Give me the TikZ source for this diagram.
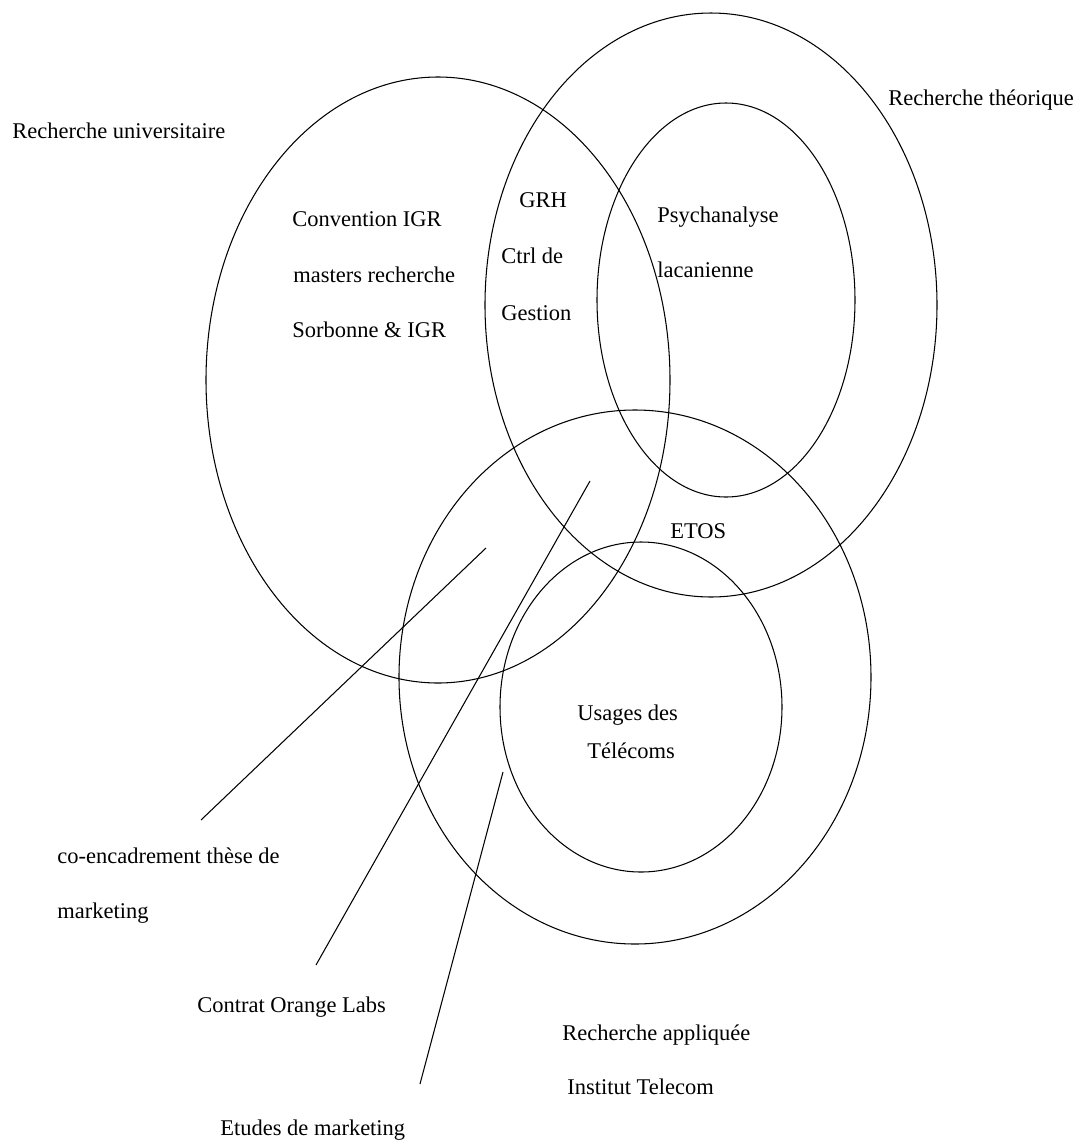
\documentclass[tikz,border=0pt]{standalone}
\usepackage{fontspec}
\setmainfont{Liberation Serif}
\begin{document}
\begin{tikzpicture}[x=0.02cm,y=-0.02cm,
  ring/.style={draw=black, line width=0.6pt},
  link/.style={draw=black, line width=0.6pt},
  lbl/.style={anchor=base west, inner sep=0pt, font=\fontsize{12.8}{15}\selectfont}]
\useasboundingbox[fill=white] (0,0) rectangle (1081,1144);
% ellipses
\draw[ring] (438,380) ellipse [x radius=232, y radius=303];
\draw[ring] (711,305) ellipse [x radius=226, y radius=292];
\draw[ring] (726,300) ellipse [x radius=129, y radius=197];
\draw[ring] (635,677) ellipse [x radius=236, y radius=267];
\draw[ring] (641,707) ellipse [x radius=141, y radius=165];
% connector end points
\coordinate (c1a) at (486,548);
\coordinate (c1b) at (201,820);
\coordinate (c2a) at (590,481);
\coordinate (c2b) at (316,965);
\coordinate (c3a) at (503,772);
\coordinate (c3b) at (420,1084);
\draw[link] (c1a) -- (c1b);
\draw[link] (c2a) -- (c2b);
\draw[link] (c3a) -- (c3b);
% labels
\node[lbl] (ru) at (12,138) {Recherche universitaire};
\node[lbl] (rt) at (888,105) {Recherche théorique};
\node[lbl] (cv1) at (292,226) {Convention IGR};
\node[lbl] (cv2) at (293,282) {masters recherche};
\node[lbl] (cv3) at (292,337) {Sorbonne \& IGR};
\node[lbl] (g1) at (519,207) {GRH};
\node[lbl] (g2) at (501,263) {Ctrl de};
\node[lbl] (g3) at (501,320) {Gestion};
\node[lbl] (p1) at (657,222) {Psychanalyse};
\node[lbl] (p2) at (657,277) {lacanienne};
\node[lbl] (etos) at (670,538) {ETOS};
\node[lbl] (u1) at (577,720) {Usages des};
\node[lbl] (u2) at (587,758) {Télécoms};
\node[lbl] (ce1) at (57,863) {co-encadrement thèse de};
\node[lbl] (ce2) at (57,918) {marketing};
\node[lbl] (col) at (197,1012) {Contrat Orange Labs};
\node[lbl] (ra1) at (562,1040) {Recherche appliquée};
\node[lbl] (ra2) at (567,1094) {Institut Telecom};
\node[lbl] (em) at (220,1135) {Etudes de marketing};
\end{tikzpicture}
\end{document}
